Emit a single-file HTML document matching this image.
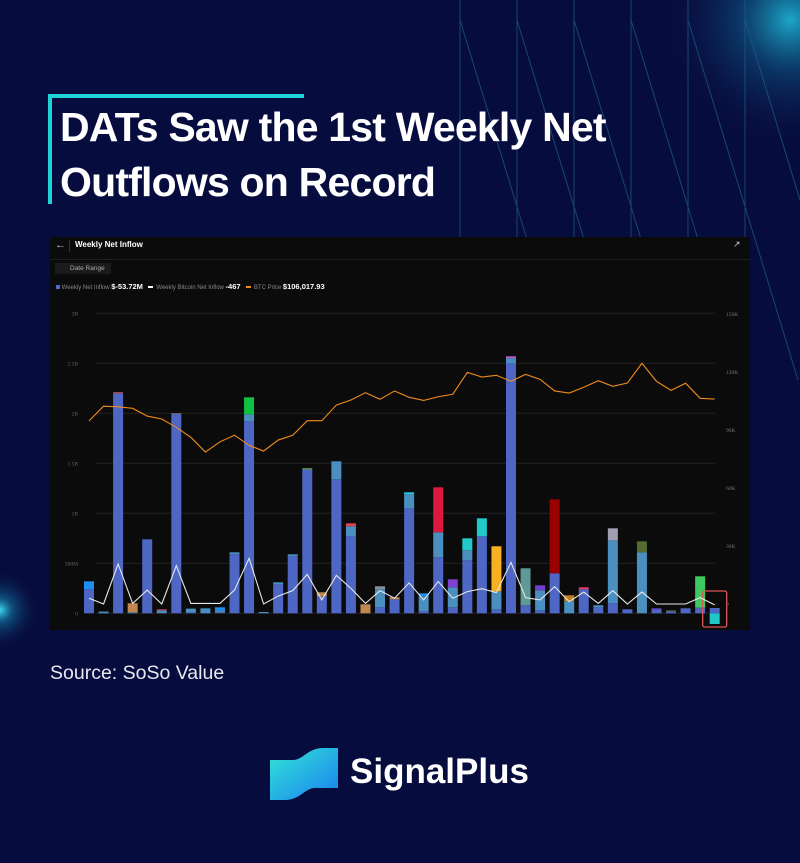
<!DOCTYPE html>
<html><head><meta charset="utf-8">
<style>
html,body{margin:0;padding:0}
body{width:800px;height:863px;position:relative;overflow:hidden;background:#070c3e;font-family:"Liberation Sans",sans-serif}
.abs{position:absolute}
</style></head>
<body>
<svg class="abs" style="left:0;top:0" width="800" height="863">
<defs>
<radialGradient id="g1" cx="0.5" cy="0.5" r="0.5"><stop offset="0" stop-color="#1fb8d8" stop-opacity="0.9"/><stop offset="0.4" stop-color="#0f5f8a" stop-opacity="0.5"/><stop offset="1" stop-color="#070c3e" stop-opacity="0"/></radialGradient>
<radialGradient id="g2" cx="0.5" cy="0.5" r="0.5"><stop offset="0" stop-color="#3fd8ee" stop-opacity="1"/><stop offset="0.3" stop-color="#137da6" stop-opacity="0.6"/><stop offset="1" stop-color="#070c3e" stop-opacity="0"/></radialGradient>
<linearGradient id="lg" x1="0" y1="0" x2="1" y2="1"><stop offset="0" stop-color="#32e6d6"/><stop offset="1" stop-color="#1a7ff0"/></linearGradient>
</defs>
<circle cx="790" cy="20" r="130" fill="url(#g1)"/>
<circle cx="0" cy="610" r="40" fill="url(#g2)"/>
<g stroke="#1f5f86" stroke-width="1" opacity="0.7" id="deco"></g>
</svg>

<div class="abs" style="left:48px;top:94px;width:256px;height:4px;background:#1ed3d6"></div>
<div class="abs" style="left:48px;top:94px;width:4px;height:110px;background:#1ed3d6"></div>
<div class="abs" style="left:60px;top:100px;color:#fff;font-weight:bold;font-size:41px;line-height:55px;letter-spacing:-0.8px">DATs Saw the 1st Weekly Net<br>Outflows on Record</div>

<div class="abs" style="left:50px;top:237px;width:700px;height:393px;background:#0b0b0c">
  <div class="abs" style="left:5px;top:2px;color:#bbb;font-size:11px">←</div>
  <div class="abs" style="left:19px;top:3px;width:1px;height:12px;background:#333"></div>
  <div class="abs" style="left:25px;top:3px;color:#fff;font-size:8px;font-weight:bold">Weekly Net Inflow</div>
  <div class="abs" style="left:683px;top:2px;color:#ccc;font-size:9px">↗</div>
  <div class="abs" style="left:0;top:22px;width:700px;height:1px;background:#1e1e1e"></div>
  <div class="abs" style="left:5px;top:26px;width:56px;height:11px;background:#1b1b1c;color:#aaa;font-size:6.5px;line-height:11px;padding-left:15px;box-sizing:border-box">Date Range</div>
  <div class="abs" style="left:6px;top:45px;font-size:6px;color:#888;white-space:nowrap">
    <span><span style="display:inline-block;width:4px;height:4px;background:#5068d0"></span> Weekly Net Inflow <b style="color:#fff;font-size:7.5px">$-53.72M</b></span>&nbsp;&nbsp;
    <span><span style="display:inline-block;width:5px;height:2px;background:#fff;vertical-align:middle"></span>&nbsp; Weekly Bitcoin Net Inflow <b style="color:#fff;font-size:7.5px">-467</b></span>&nbsp;&nbsp;
    <span><span style="display:inline-block;width:5px;height:2px;background:#f08c1a;vertical-align:middle"></span>&nbsp; BTC Price <b style="color:#fff;font-size:7.5px">$106,017.93</b></span>
  </div>
</div>

<svg id="chart" class="abs" style="left:0;top:0" width="800" height="863"></svg>

<div class="abs" style="left:50px;top:662px;color:#e8e8f0;font-size:19.5px">Source: SoSo Value</div>

<svg class="abs" style="left:268px;top:748px" width="75" height="52">
<path d="M2,12 L25,12 C35,12 40,0 55,0 L70,0 L70,40 L47,40 C37,40 32,52 17,52 L2,52 Z" fill="url(#lg)"/>
</svg>
<div class="abs" style="left:350px;top:752px;color:#fff;font-size:35px;font-weight:bold">SignalPlus</div>

<script>
(function(){
  const g=document.getElementById('deco');
  for(let k=0;k<7;k++){
    const x=460+57*k;
    const v=document.createElementNS('http://www.w3.org/2000/svg','line');
    v.setAttribute('x1',x);v.setAttribute('y1',0);v.setAttribute('x2',x);v.setAttribute('y2',250);
    g.appendChild(v);
    const d=document.createElementNS('http://www.w3.org/2000/svg','line');
    d.setAttribute('x1',x);d.setAttribute('y1',20);d.setAttribute('x2',x+110);d.setAttribute('y2',380);
    g.appendChild(d);
  }
})();

const categories=[1,2,3,4,5,6,7,8,9,10,11,12,13,14,15,16,17,18,19,20,21,22,23,24,25,26,27,28,29,30,31,32,33,34,35,36,37,38,39,40,41,42,43,44];
// total weekly net inflow (positive part, billions USD)
const totalVals=[0.32,0.017,2.21,0.1,0.74,0.04,2.0,0.047,0.05,0.06,0.61,2.16,0.013,0.31,0.59,1.45,0.21,1.52,0.9,0.09,0.27,0.16,1.21,0.2,1.26,0.34,0.75,0.95,0.67,2.57,0.45,0.28,1.14,0.18,0.26,0.08,0.85,0.04,0.72,0.05,0.03,0.05,0.37,0.053];
// light-blue segment (billions)
const seg2Vals=[0,0.017,0,0.01,0,0.03,0,0.04,0.05,0.02,0.02,0.07,0.013,0.02,0.02,0,0,0.18,0.1,0,0.18,0,0.14,0.15,0.25,0.2,0.1,0,0.18,0.05,0,0.2,0,0.12,0,0.02,0.63,0,0.61,0,0,0,0.01,0];
// top accent segment (billions)
const seg3Vals=[0.08,0,0.01,0.09,0,0.01,0.005,0,0,0.03,0,0.17,0,0,0,0.01,0.04,0,0.03,0.09,0.03,0.02,0.02,0.03,0.45,0.08,0.12,0.18,0.45,0.02,0.37,0.05,0.74,0.06,0.02,0,0.12,0,0.11,0.01,0.01,0,0.31,0];
const seg3Colors=['#1e8ef0','#2a8ab0','#d86060','#c08850','#4f67c4','#d04060','#b09a60','#888','#2a9ae0','#1e8ef0','#4a8fc0','#10c040','#2a9ae0','#4a8fc0','#4a8fc0','#70c050','#c08850','#4a8fc0','#e04050','#c08850','#8890a0','#c08850','#20c8e0','#1e8ef0','#dc1840','#8040d0','#20c8c8','#20c8c8','#f8b020','#b060d0','#5f9a98','#7040d0','#990000','#c08020','#e83870','#20a060','#a0a0b0','#50a0d0','#556b2f','#7040d0','#556b2f','#4f67c4','#40c860','#20c8c8'];
const netLast=-0.107;
const btcPrice=[94.7,102.3,102.0,101.2,97.2,95.7,91.4,86.2,78.6,83.9,87.3,82.1,79.1,84.8,87.3,94.8,94.8,102.9,105.5,109.3,105.9,110.2,106.9,105.3,107.2,108.5,119.8,117.4,118.3,115.2,118.8,116.2,110.2,109.1,112.1,115.5,112.6,114.3,124.5,115.2,110.5,114.2,106.4,106.0];
const btcFlow=[3.0,0.0,20.7,0.3,7.2,0.0,19.8,0.3,0.3,0.3,7.2,23.6,0.0,4.1,6.9,15.3,2.1,14.8,8.1,0.3,6.9,3.0,10.9,2.1,11.6,3.0,6.4,7.9,5.9,21.5,3.3,2.1,9.0,1.2,6.2,0.3,6.9,0.0,6.2,0.0,0.0,0.0,3.3,-0.467];
const leftTicks=['0','500M','1B','1.5B','2B','2.5B','3B'];
const leftTickVals=[0,0.5,1,1.5,2,2.5,3];
const rightTicks=['0','30K','60K','90K','120K','150K'];
const rightTickVals=[0,30,60,90,120,150];

const svg=document.getElementById('chart');
const NS='http://www.w3.org/2000/svg';
const x0=89, step=(714.7-89)/43, bw=10;
const xS=i=>x0+i*step;
const yL=v=>613.3-v*100;
const yR=v=>604-v*58/30;
function mk(t,a){const e=document.createElementNS(NS,t);for(const k in a)e.setAttribute(k,a[k]);svg.appendChild(e);return e;}

leftTickVals.forEach((v,i)=>{
  const l=mk('line',{x1:96,x2:715,y1:yL(v),y2:yL(v),stroke:'#222','stroke-width':1});
  
  
  const t=mk('text',{x:78,y:yL(v)+2,'font-size':5.5,fill:'#666','text-anchor':'end','font-family':'Liberation Serif, serif'});
  t.textContent=leftTicks[i];
  
  
});
rightTickVals.forEach((v,i)=>{
  const t=mk('text',{x:726,y:yR(v)+2,'font-size':5.5,fill:'#777','font-family':'Liberation Serif, serif'});
  t.textContent=rightTicks[i];
  
  
});

categories.forEach((c,i)=>{
  const x=xS(i)-bw/2;
  const base=Math.max(0,totalVals[i]-seg2Vals[i]-seg3Vals[i]);
  let acc=0;
  const segs=[[base,'#4f67c4'],[seg2Vals[i],'#4a8fc0'],[seg3Vals[i],seg3Colors[i]]];
  segs.forEach(([v,col])=>{
    if(v<=0)return;
    const r=mk('rect',{x:x,y:yL(acc+v),width:bw,height:v*100,fill:col});
    
    
    acc+=v;
  });
  if(i===categories.length-1){
    const r=mk('rect',{x:x,y:yL(0),width:bw,height:-netLast*100,fill:'#20c8c8'});
    
    
    const h=mk('rect',{x:x-7,y:591,width:24,height:36,rx:2,fill:'none',stroke:'#e05555','stroke-width':1.3});
    
    
  }
});

const pO=mk('polyline',{points:btcPrice.map((v,i)=>xS(i)+','+yR(v)).join(' '),fill:'none',stroke:'#f08c1a','stroke-width':1.1});


const pW=mk('polyline',{points:btcFlow.map((v,i)=>xS(i)+','+yR(v)).join(' '),fill:'none',stroke:'#e8e8e8','stroke-width':1.1});


</script>
</body></html>
